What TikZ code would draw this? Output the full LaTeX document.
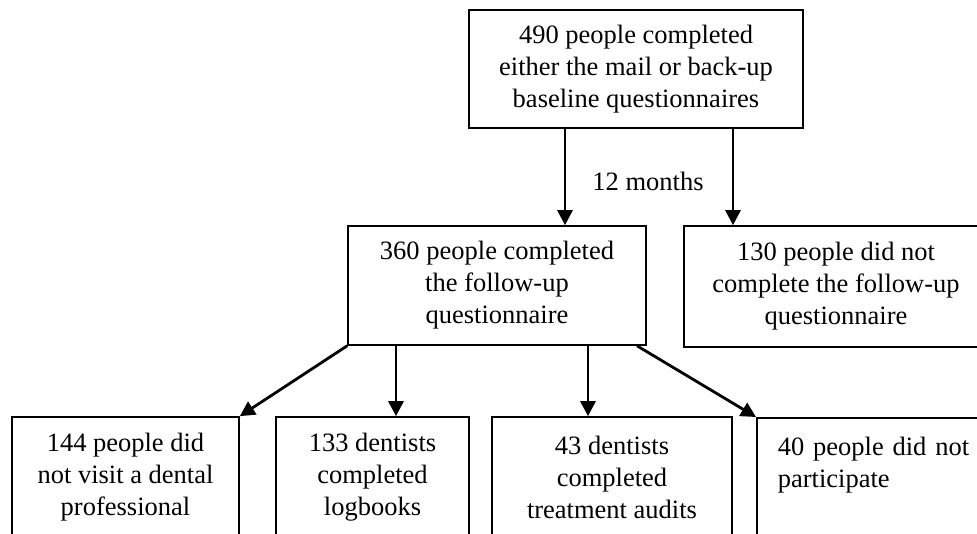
\documentclass[tikz,border=0pt]{standalone}
\usepackage{fontspec}
\setmainfont{Liberation Serif}
\usetikzlibrary{arrows.meta}
\begin{document}
\begin{tikzpicture}[x=1pt,y=-1pt,
  every node/.style={font=\fontsize{26.5}{32}\selectfont},
  box/.style={draw, line width=1.6pt, rectangle, align=center,
              minimum width=#1, inner sep=4pt},
  arr/.style={line width=2.8pt, -{Triangle[length=15pt,width=15pt]}}]
  \useasboundingbox (0,0) rectangle (977,534);
  \clip (0,0) rectangle (977,534);

  % top level
  \node[box=334pt, minimum height=118pt] (top) at (636,69)
    {490 people completed\\either the mail or back-up\\baseline questionnaires};

  % second level
  \node[box=298pt, minimum height=119pt] (mid) at (497,285.5)
    {360 people completed\\the follow-up\\questionnaire};
  \node[box=304pt, minimum height=121pt] (lost) at (836,286.5)
    {130 people did not\\complete the follow-up\\questionnaire};

  % third level
  \node[box=227pt, minimum height=121pt] (b1) at (125.5,477.5)
    {144 people did\\not visit a dental\\professional};
  \node[box=193pt, minimum height=121pt] (b2) at (372.5,477.5)
    {133 dentists\\completed\\logbooks};
  \node[box=240pt, minimum height=121pt] (b3) at (612,477.5)
    {43 dentists\\completed\\treatment audits};
  \node[box=244pt, minimum height=121pt, align=left, inner xsep=21pt,
        text width=202pt, anchor=north west] (b4) at (756,417)
    {40 people did not\\participate\\\mbox{}};

  \node (lab) at (648,181) {12 months};

  % connector columns
  \coordinate (cA) at (565,0);
  \coordinate (cB) at (733,0);
  \coordinate (cC) at (396,0);
  \coordinate (cD) at (588,0);
  \coordinate (cE) at (637,0);

  \draw[arr] (top.south -| cA) -- (mid.north -| cA);
  \draw[arr] (top.south -| cB) -- (lost.north -| cB);
  \draw[arr] (mid.south west) -- (b1.north east);
  \draw[arr] (mid.south -| cC) -- (b2.north -| cC);
  \draw[arr] (mid.south -| cD) -- (b3.north -| cD);
  \draw[arr] (mid.south -| cE) -- (b4.north west);
\end{tikzpicture}
\end{document}
